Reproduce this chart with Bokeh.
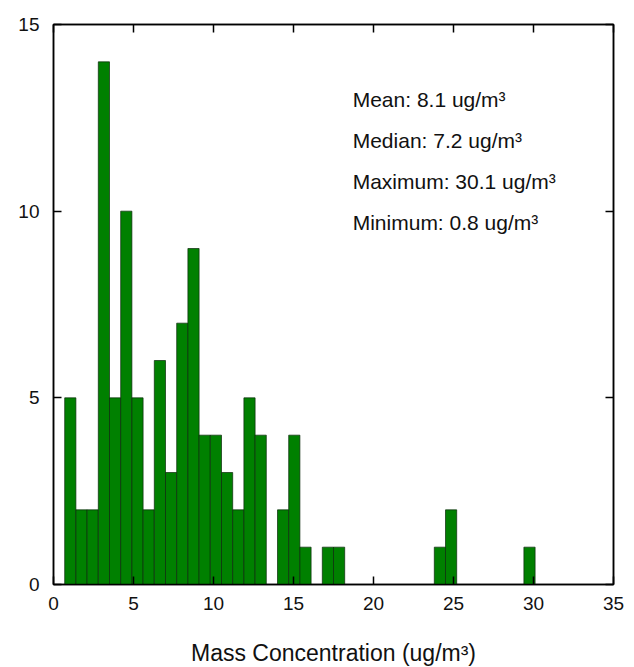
from bokeh.plotting import figure
from bokeh.models import LinearAxis, Label, FixedTicker, Range1d, ColumnDataSource
from bokeh.embed import file_html
from bokeh.resources import INLINE

# Histogram bins (ug/m3) and counts
bin_start = 0.7
bin_width = 0.7
counts = [5, 2, 2, 14, 5, 10, 5, 2, 6, 3, 7, 9, 4, 4, 3, 2, 5, 4,
          0, 2, 4, 1, 0, 1, 1,
          0, 0, 0, 0, 0, 0, 0, 0,
          1, 2,
          0, 0, 0, 0, 0, 0,
          1]
x_ticks = [0, 5, 10, 15, 20, 25, 30, 35]
y_ticks = [0, 5, 10, 15]
stat_labels = ["Mean: 8.1 ug/m\u00b3", "Median: 7.2 ug/m\u00b3",
               "Maximum: 30.1 ug/m\u00b3", "Minimum: 0.8 ug/m\u00b3"]
x_title = "Mass Concentration (ug/m\u00b3)"

FONT = "Liberation Sans"

lefts, rights, tops = [], [], []
for i, c in enumerate(counts):
    if c > 0:
        lefts.append(bin_start + i * bin_width)
        rights.append(bin_start + (i + 1) * bin_width)
        tops.append(c)
src = ColumnDataSource(dict(left=lefts, right=rights, top=tops))

p = figure(frame_width=560, frame_height=560,
           x_range=Range1d(0, 35), y_range=Range1d(0, 15),
           output_backend="svg", toolbar_location=None,
           min_border_left=53, min_border_top=24, min_border_right=14,
           min_border_bottom=20, background_fill_color="white",
           border_fill_color="white")
p.grid.visible = False
p.outline_line_color = "black"
p.outline_line_width = 1.5

p.quad(left="left", right="right", top="top", bottom=0, source=src,
       fill_color="#008000", line_color="#0b2a0b", line_width=0.7)

def style_axis(ax, ticks, show_labels):
    ax.ticker = FixedTicker(ticks=ticks)
    ax.minor_tick_line_color = None
    ax.major_tick_in = 8
    ax.major_tick_out = 0
    ax.major_tick_line_color = "black"
    ax.major_tick_line_width = 1.5
    ax.axis_line_color = "black"
    ax.axis_line_width = 1.5
    ax.major_label_text_font = FONT
    if show_labels:
        ax.major_label_text_font_size = "19px"
        ax.major_label_text_color = "#111111"
    else:
        ax.major_label_text_color = None
        ax.major_label_text_font_size = "1px"
        ax.major_label_standoff = 0

xa = p.xaxis[0]
style_axis(xa, x_ticks, True)
xa.major_label_standoff = 12
xa.axis_label = x_title
xa.axis_label_text_font = FONT
xa.axis_label_text_font_style = "normal"
xa.axis_label_text_font_size = "23px"
xa.axis_label_text_color = "#111111"
xa.axis_label_standoff = 27

ya = p.yaxis[0]
style_axis(ya, y_ticks, True)
ya.major_label_standoff = 14

top_ax = LinearAxis()
style_axis(top_ax, x_ticks, False)
p.add_layout(top_ax, "above")
right_ax = LinearAxis()
style_axis(right_ax, y_ticks, False)
p.add_layout(right_ax, "right")

label_y = [13.0, 11.9, 10.8, 9.7]
for txt, yy in zip(stat_labels, label_y):
    p.add_layout(Label(x=18.7, y=yy, text=txt, text_font=FONT,
                       text_font_size="21px", text_color="#111111",
                       text_baseline="alphabetic"))

open("out.html", "w").write(file_html(p, INLINE))
